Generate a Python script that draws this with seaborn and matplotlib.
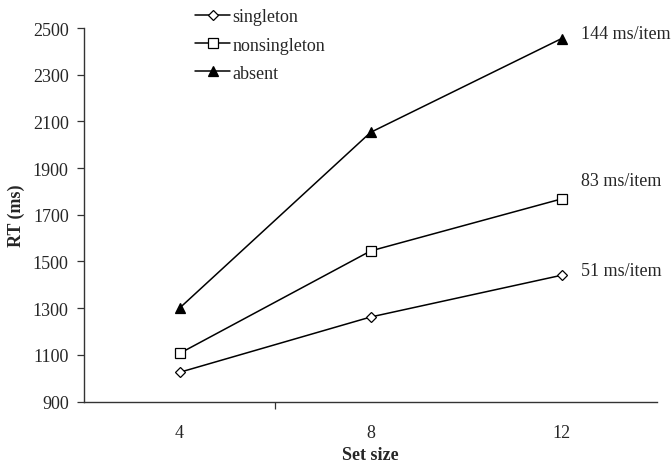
import matplotlib
matplotlib.use("Agg")
import matplotlib.pyplot as plt
from matplotlib.lines import Line2D
import seaborn as sns

set_sizes = ["4", "8", "12"]
singleton = [1025, 1262, 1441]
nonsingleton = [1106, 1545, 1768]
absent = [1300, 2053, 2455]
series_names = ["singleton", "nonsingleton", "absent"]
slope_labels = ["51 ms/item", "83 ms/item", "144 ms/item"]
y_ticks = [900, 1100, 1300, 1500, 1700, 1900, 2100, 2300, 2500]

sns.set_theme(style="white")
plt.rcParams["font.family"] = ["Liberation Serif", "DejaVu Serif"]

FS = 13

fig = plt.figure(figsize=(6.72, 4.64), dpi=100)
ax = fig.add_axes([0.125, 0.1325, 0.853, 0.805])

styles = [
    dict(marker="D", markersize=5.5, markerfacecolor="white"),
    dict(marker="s", markersize=7, markerfacecolor="white"),
    dict(marker="^", markersize=7.5, markerfacecolor="black"),
]
data = [singleton, nonsingleton, absent]
for vals, st in zip(data, styles):
    sns.pointplot(x=set_sizes, y=vals, order=set_sizes, ax=ax, color="black",
                  errorbar=None, linewidth=1.1, markeredgecolor="black",
                  markeredgewidth=0.9, **st)

ax.set_xlim(-0.5, 2.5)
ax.set_ylim(900, 2500)
ax.set_yticks(y_ticks)
ax.set_yticklabels([str(v) for v in y_ticks], fontsize=FS)
ax.set_xticks(range(len(set_sizes)))
ax.set_xticklabels(set_sizes, fontsize=FS)
ax.tick_params(axis="x", which="major", length=0, pad=16)
ax.set_xticks([0.5], minor=True)
ax.tick_params(axis="x", which="minor", bottom=True, length=5, width=0.9,
               color="#333333", direction="out")
ax.tick_params(axis="y", length=5, width=0.9, color="#333333", direction="out",
               left=True, pad=6)
for s in ["top", "right"]:
    ax.spines[s].set_visible(False)
for s in ["left", "bottom"]:
    ax.spines[s].set_color("#333333")
    ax.spines[s].set_linewidth(1.0)

ax.set_xlabel("Set size", fontsize=FS, fontweight="bold", labelpad=4)
ax.set_ylabel("RT (ms)", fontsize=FS, fontweight="bold", labelpad=6)

# slope annotations
ann_y = [1460, 1846, 2477]
for lab, yv in zip(slope_labels, ann_y):
    ax.text(2.1, yv, lab, fontsize=FS, ha="left", va="center")

handles = [Line2D([0], [0], color="black", linewidth=1.1, markeredgecolor="black",
                  markeredgewidth=0.9, **st) for st in styles]
leg = fig.legend(handles, series_names, loc="upper left", bbox_to_anchor=(0.272, 1.007),
                 frameon=False, fontsize=FS, handlelength=1.9, handletextpad=0.15,
                 labelspacing=0.62, borderpad=0.2)

fig.savefig("out.png", dpi=100)
